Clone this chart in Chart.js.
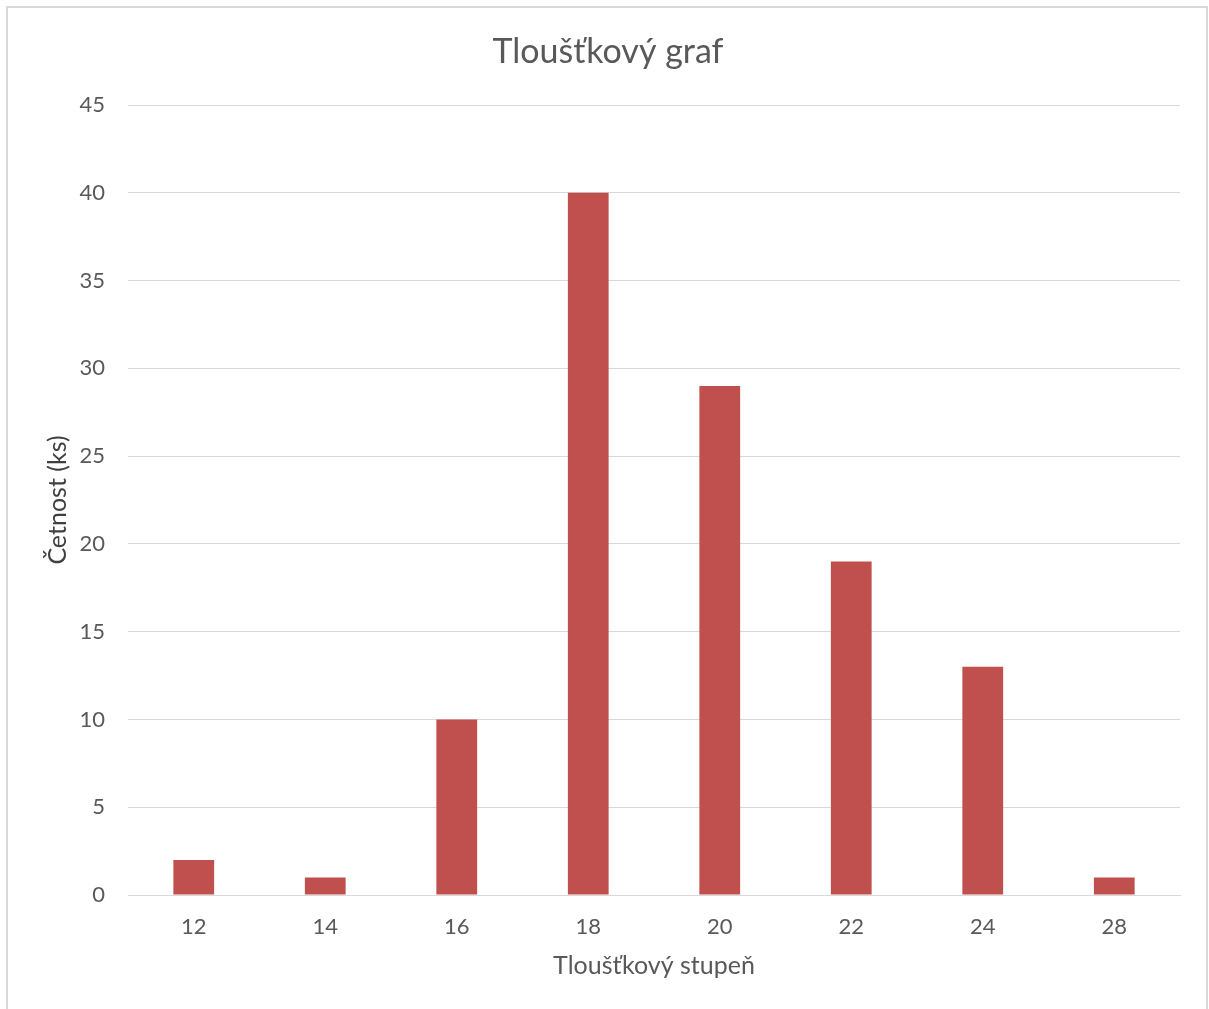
<!DOCTYPE html>
<html>
<head>
<meta charset="utf-8">
<script src="https://cdn.jsdelivr.net/npm/chart.js@4.4.0/dist/chart.umd.min.js"></script>
<style>
  html, body { margin: 0; padding: 0; background: #ffffff; overflow: hidden; }
  #frame { position: absolute; left: 6px; top: 6px; width: 1198px; height: 1100px; border: 2px solid #d9d9d9; }
  #wrap { position: absolute; left: 0; top: 0; width: 1209px; height: 1009px; }
</style>
</head>
<body>
<div id="frame"></div>
<div id="wrap"><canvas id="c" width="1209" height="1009"></canvas></div>
<script>
const chartTitle = "Tloušťkový graf";
const xAxisTitle = "Tloušťkový stupeň";
const yAxisTitle = "Četnost (ks)";
const categories = ["12", "14", "16", "18", "20", "22", "24", "28"];
const counts = [2, 1, 10, 40, 29, 19, 13, 1];
const yMin = 0, yMax = 45, yStep = 5;

const FONT = "Lato, 'Open Sans', sans-serif";

new Chart(document.getElementById('c'), {
  type: 'bar',
  data: {
    labels: categories,
    datasets: [{
      label: 'Četnost',
      data: counts,
      backgroundColor: '#c0504d',
      borderWidth: 0,
      categoryPercentage: 1.0,
      barPercentage: 0.31
    }]
  },
  options: {
    responsive: false,
    animation: false,
    devicePixelRatio: 1,
    layout: { padding: { top: 10, right: 29, bottom: 0, left: 36 } },
    plugins: {
      legend: { display: false },
      tooltip: { enabled: false },
      title: {
        display: true,
        text: chartTitle,
        color: '#595959',
        font: { family: FONT, size: 34, weight: 'normal', lineHeight: 1.2 },
        padding: { top: 21.6, bottom: 32.6 }
      }
    },
    scales: {
      x: {
        grid: { display: false, drawTicks: false },
        border: { display: true, color: '#d9d9d9', width: 1 },
        ticks: { color: '#595959', font: { family: FONT, size: 22 }, padding: 19 },
        title: {
          display: true,
          text: xAxisTitle,
          color: '#595959',
          font: { family: FONT, size: 25, lineHeight: 1.2 },
          padding: { top: 0, bottom: 28 }
        },
        afterFit: function(scale) { scale.height = 114; }
      },
      y: {
        min: yMin,
        max: yMax,
        ticks: { stepSize: yStep, color: '#595959', font: { family: FONT, size: 22 }, padding: 23 },
        grid: { color: '#d9d9d9', lineWidth: 1, drawTicks: false },
        border: { display: false },
        title: {
          display: true,
          text: yAxisTitle,
          color: '#404040',
          font: { family: FONT, size: 25, lineHeight: 1.2 },
          padding: { top: 7, bottom: 0 }
        },
        afterFit: function(scale) { scale.width = 92; }
      }
    }
  }
});
</script>
</body>
</html>
